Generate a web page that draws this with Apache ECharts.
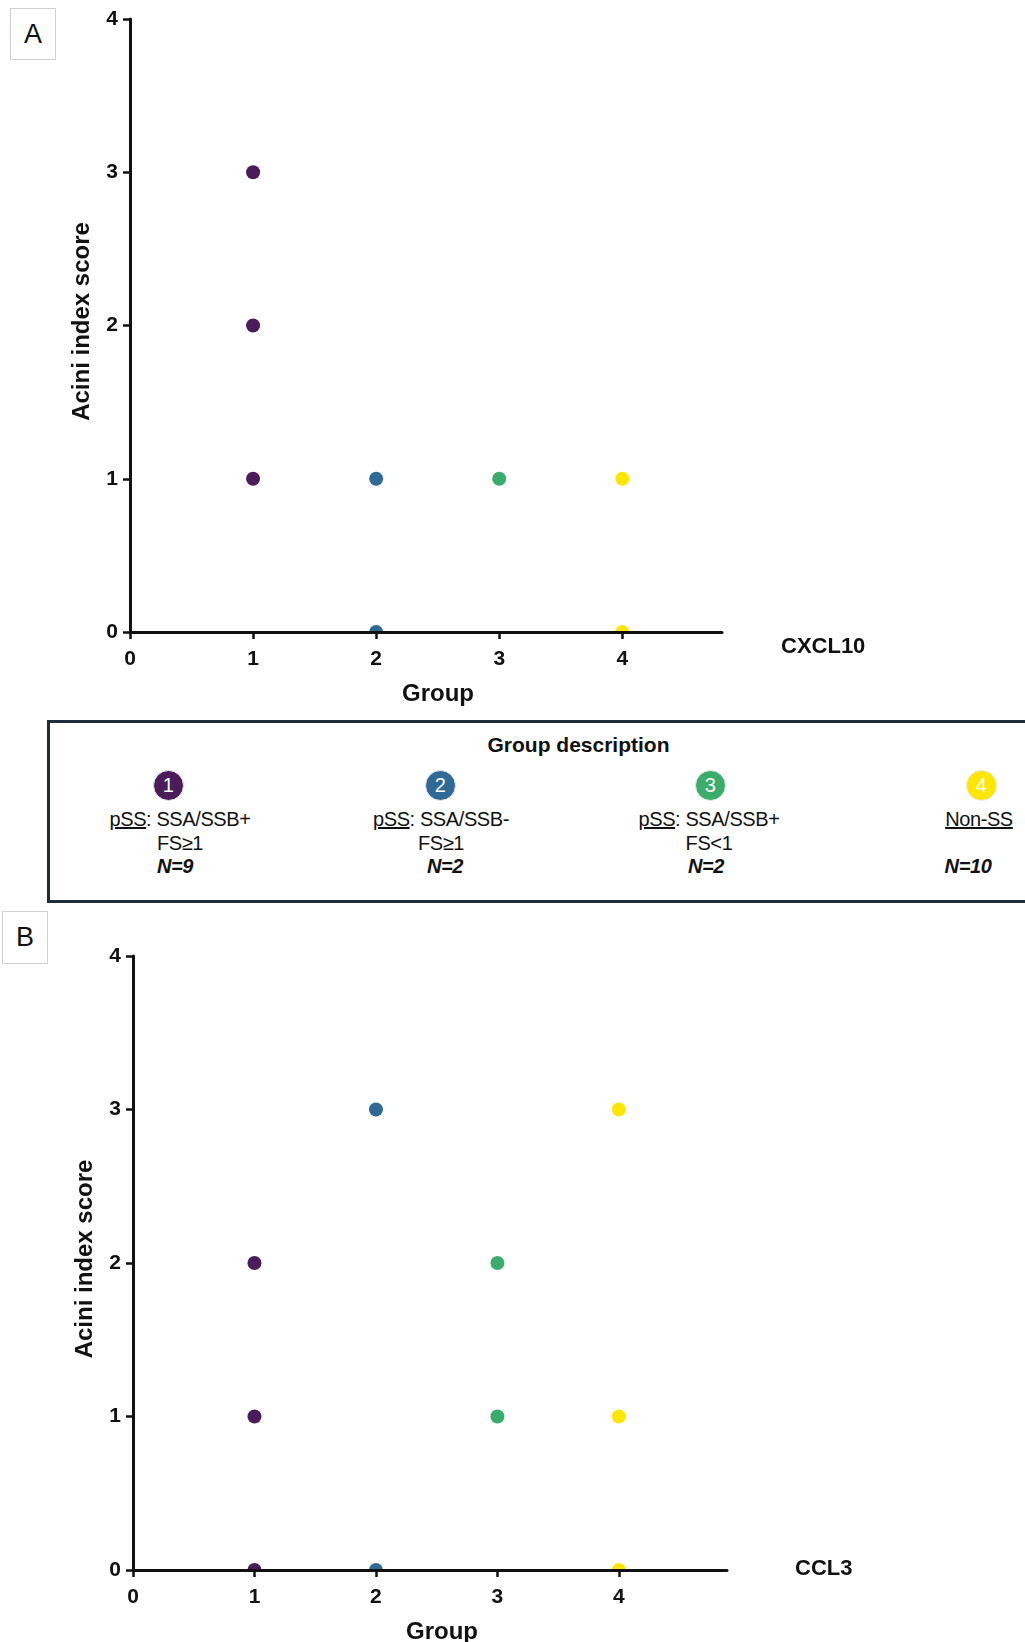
<!DOCTYPE html>
<html>
<head>
<meta charset="utf-8">
<script src="https://cdn.jsdelivr.net/npm/echarts@6/dist/echarts.min.js"></script>
<style>
  html, body { margin: 0; padding: 0; background: #fff; }
  #wrap { position: relative; width: 1025px; height: 1642px; overflow: hidden; }
  #chart { position: absolute; left: 0; top: 0; width: 1025px; height: 1642px; }
  .panel-tag {
    position: absolute; border: 1.5px solid #d0d0d0; background: #fff;
    font-family: "Liberation Sans", Arial, sans-serif; font-size: 27px; color: #111;
    display: flex; align-items: center; justify-content: center;
  }
  #legendBox {
    position: absolute; left: 47px; top: 720px; width: 1000px; height: 183px;
    border: 3px solid #1f2c3b; box-sizing: border-box; background: #fff;
    font-family: "Liberation Sans Narrow", "Liberation Sans", Arial, sans-serif; color: #111;
  }
  #legendBox .title {
    position: absolute; left: 0; width: 1057px; top: 10px; text-align: center;
    font-family: "Liberation Sans", Arial, sans-serif; font-weight: bold; font-size: 21px;
  }
  .grp { position: absolute; width: 240px; text-align: center; font-size: 20px; line-height: 23.5px; letter-spacing: -0.4px; }
  .grp .dot {
    width: 31px; height: 31px; border-radius: 50%; margin: 0 auto 7px auto; color: #fff;
    font-size: 20px; line-height: 29px; text-align: center; border: 1px solid #e8e8e8; box-sizing: border-box;
  }
  .grp .line { position: relative; }
  .grp u { text-decoration: underline; }
  .grp .n { font-weight: bold; font-style: italic; }
</style>
</head>
<body>
<div id="wrap">
  <div id="chart"></div>
  <div class="panel-tag" style="left:10px;top:8px;width:44px;height:50px;">A</div>
  <div class="panel-tag" style="left:2px;top:911px;width:44px;height:51px;">B</div>
  <div id="legendBox">
    <div class="title">Group description</div>
  </div>
</div>
<script>
// 分组与颜色
const groupIds = [1, 2, 3, 4];
const groupColors = ['#4a1d5a', '#2e6a95', '#3aad6c', '#ffe600'];
const xTicks = [0, 1, 2, 3, 4];

// 各组的 Acini index score（按组）
const cxcl10Scores = [[3, 2, 1], [1, 0], [1], [1, 0]];
const ccl3Scores = [[2, 1, 0], [3, 0], [2, 1], [3, 1, 0]];

// 图例说明
const groupLine1 = ['SSA/SSB+', 'SSA/SSB-', 'SSA/SSB+', ''];
const groupLine2 = ['FS≥1', 'FS≥1', 'FS<1', ''];
const groupN = ['N=9', 'N=2', 'N=2', 'N=10'];

const halfDot = 'path://M0,10A10,10,0,0,1,20,10Z';
const axisFont = '"Liberation Sans Narrow", "Liberation Sans", Arial, sans-serif';

function buildPoints(groupIndex, scores) {
  return scores.map(v => {
    if (v === 0) {
      // 0 值的点被坐标轴截掉一半
      return { value: [groupIds[groupIndex], v], symbol: halfDot, symbolSize: [14, 7], symbolOffset: [0, -3.5] };
    }
    return { value: [groupIds[groupIndex], v] };
  });
}

function makeSeries(scoresList, axisIndex) {
  return scoresList.map((scores, i) => ({
    type: 'scatter',
    xAxisIndex: axisIndex,
    yAxisIndex: axisIndex,
    symbol: 'circle',
    symbolSize: 14,
    itemStyle: { color: groupColors[i], opacity: 1 },
    data: buildPoints(i, scores),
    silent: true,
    z: 2
  }));
}

function xAxisOpt(gridIndex, max) {
  return {
    gridIndex: gridIndex,
    type: 'value',
    min: 0,
    max: max,
    name: 'Group',
    nameLocation: 'middle',
    nameGap: 50,
    nameTextStyle: { fontFamily: 'Liberation Sans', fontWeight: 'bold', fontSize: 24, color: '#111', padding: [0, 0, 0, 24] },
    axisLine: { onZero: false, lineStyle: { color: '#111', width: 3 } },
    axisTick: { show: true, length: 7, lineStyle: { color: '#111', width: 2.5 }, customValues: xTicks },
    axisLabel: { customValues: xTicks, margin: 17, fontFamily: axisFont, fontWeight: 'bold', fontSize: 21, color: '#111' },
    splitLine: { show: false },
    z: 3
  };
}

function yAxisOpt(gridIndex) {
  return {
    gridIndex: gridIndex,
    type: 'value',
    min: 0,
    max: 4,
    interval: 1,
    name: 'Acini index score',
    nameLocation: 'middle',
    nameGap: 36,
    nameTextStyle: { fontFamily: 'Liberation Sans', fontWeight: 'bold', fontSize: 24, color: '#111', padding: [0, 0, 0, 8] },
    axisLine: { show: true, onZero: false, lineStyle: { color: '#111', width: 3 } },
    axisTick: { show: true, length: 7, lineStyle: { color: '#111', width: 2.5 } },
    axisLabel: { margin: 12, fontFamily: axisFont, fontWeight: 'bold', fontSize: 21, color: '#111' },
    splitLine: { show: false },
    z: 3
  };
}

const chart = echarts.init(document.getElementById('chart'));
chart.setOption({
  animation: false,
  backgroundColor: '#fff',
  grid: [
    { left: 130, top: 19, width: 592, height: 613, outerBoundsMode: 'none' },
    { left: 133, top: 956, width: 594, height: 614, outerBoundsMode: 'none' }
  ],
  xAxis: [xAxisOpt(0, 4.81), xAxisOpt(1, 4.89)],
  yAxis: [yAxisOpt(0), yAxisOpt(1)],
  graphic: [
    { type: 'text', left: 781, top: 636, style: { text: 'CXCL10', font: 'bold 22px "Liberation Sans"', fill: '#111' } },
    { type: 'text', left: 795, top: 1558, style: { text: 'CCL3', font: 'bold 22px "Liberation Sans"', fill: '#111' } }
  ],
  series: makeSeries(cxcl10Scores, 0).concat(makeSeries(ccl3Scores, 1))
});

// 图例框内容
const box = document.getElementById('legendBox');
const centers = [118, 390, 660, 931];
const textShift = [12, 1, -1, -2];
const nShift = [7, 5, -4, -13];
groupIds.forEach((g, i) => {
  const el = document.createElement('div');
  el.className = 'grp';
  el.style.left = (centers[i] - 120) + 'px';
  el.style.top = '47px';
  let html = '<div class="dot" style="background:' + groupColors[i] + '">' + g + '</div>';
  const sh = 'left:' + textShift[i] + 'px;';
  if (groupLine1[i]) {
    html += '<div class="line" style="' + sh + (i === 1 ? 'margin-top:6px;' : '') + '"><u>pSS</u>: ' + groupLine1[i] + '</div>';
    html += '<div class="line" style="' + sh + '">' + groupLine2[i] + '</div>';
  } else {
    html += '<div class="line" style="' + sh + '"><u>Non-SS</u></div><div>&nbsp;</div>';
  }
  html += '<div class="line n" style="left:' + nShift[i] + 'px">' + groupN[i] + '</div>';
  el.innerHTML = html;
  box.appendChild(el);
});
</script>
</body>
</html>
